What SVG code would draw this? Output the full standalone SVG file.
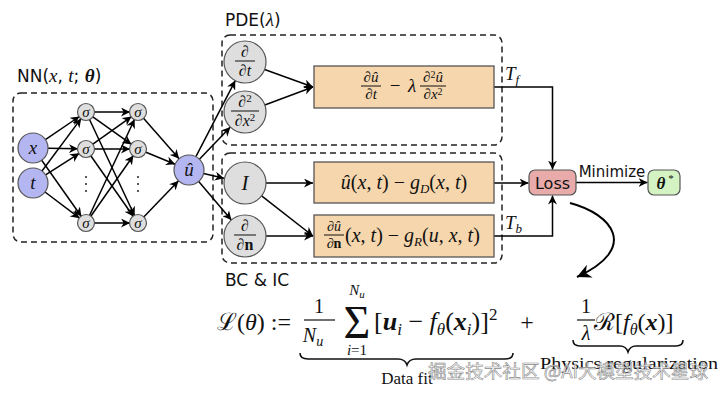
<svg xmlns="http://www.w3.org/2000/svg" width="720" height="393" viewBox="0 0 720 393">
<defs>
<marker id="ah" viewBox="0 0 10 10" refX="10" refY="5" markerWidth="9" markerHeight="9" markerUnits="userSpaceOnUse" orient="auto">
<path d="M0,0 L10,5 L0,10 L3,5 z" fill="#000"/>
</marker>
<marker id="ahb" viewBox="0 0 10 10" refX="10" refY="5" markerWidth="14" markerHeight="14" markerUnits="userSpaceOnUse" orient="auto">
<path d="M0,0 L10,5 L0,10 L3,5 z" fill="#000"/>
</marker>
</defs>
<style>
.sans{font-family:"DejaVu Sans","Liberation Sans",sans-serif;fill:#111}
.m{font-family:"Liberation Serif","DejaVu Serif",serif;fill:#111}
.i{font-style:italic}
.b{font-weight:bold}
.dash{fill:none;stroke:#222;stroke-width:1.5;stroke-dasharray:6 4}
.inp{fill:#b4b6f2;stroke:#555;stroke-width:1.2}
.sig{fill:#dedede;stroke:#555;stroke-width:1.2}
.box{fill:#f6d6ad;stroke:#555;stroke-width:1.3}
.e{stroke:#000;stroke-width:1.5;fill:none;marker-end:url(#ah)}
.ln{stroke:#111;stroke-width:1}
</style>
<rect width="720" height="393" fill="#fff"/>

<!-- containers -->
<g id="nn-container">
<rect class="dash" x="13" y="93" width="200" height="149" rx="8"/>
<text class="sans" x="17" y="82" font-size="17">NN(<tspan class="m i" font-size="19">x</tspan>, <tspan class="m i" font-size="19">t</tspan>; <tspan class="m i b" font-size="19">θ</tspan>)</text>
</g>
<g id="pde-container">
<rect class="dash" x="222" y="35" width="280" height="110" rx="8"/>
<text class="sans" x="225" y="26" font-size="17">PDE(<tspan class="m i" font-size="19">λ</tspan>)</text>
</g>
<g id="bc-container">
<rect class="dash" x="222" y="153" width="280" height="110" rx="8"/>
<text class="sans" x="225" y="286" font-size="17">BC &amp; IC</text>
</g>

<!-- connectors -->
<g id="connectors">
<line class="e" x1="45.4" y1="139.6" x2="79.4" y2="116.5"/>
<line class="e" x1="48" y1="148.3" x2="78" y2="148.8"/>
<line class="e" x1="41.7" y1="160.3" x2="81.4" y2="216.5"/>
<line class="e" x1="42" y1="171" x2="81.2" y2="118.4"/>
<line class="e" x1="45.6" y1="174.9" x2="79.3" y2="153.3"/>
<line class="e" x1="45" y1="192" x2="79.6" y2="218.2"/>
<line class="e" x1="94" y1="112" x2="130" y2="112"/>
<line class="e" x1="92.5" y1="116.6" x2="131.5" y2="144.4"/>
<line class="e" x1="89.4" y1="119.2" x2="134.6" y2="215.8"/>
<line class="e" x1="92.5" y1="144.4" x2="131.5" y2="116.6"/>
<line class="e" x1="94" y1="149" x2="130" y2="149"/>
<line class="e" x1="90.6" y1="155.5" x2="133.4" y2="216.5"/>
<line class="e" x1="89.4" y1="215.8" x2="134.6" y2="119.2"/>
<line class="e" x1="90.6" y1="216.5" x2="133.4" y2="155.5"/>
<line class="e" x1="94" y1="223" x2="130" y2="223"/>
<line class="e" x1="143.3" y1="118" x2="179.1" y2="158.7"/>
<line class="e" x1="145.4" y1="152" x2="175.1" y2="164.3"/>
<line class="e" x1="143.5" y1="217.2" x2="178.6" y2="180.8"/>
<line class="e" x1="195.9" y1="156.7" x2="235.3" y2="80.6"/>
<line class="e" x1="199.4" y1="159.2" x2="230.4" y2="127.1"/>
<line class="e" x1="203.6" y1="173.4" x2="224" y2="178.2"/>
<line class="e" x1="198.7" y1="181.4" x2="231.4" y2="220"/>
<line class="e" x1="264.6" y1="69.5" x2="313" y2="87"/>
<line class="e" x1="264.8" y1="105" x2="313" y2="87"/>
<line class="e" x1="266" y1="183" x2="313" y2="183"/>
<line class="e" x1="261.6" y1="195.9" x2="313" y2="236"/>
<line class="e" x1="266" y1="236" x2="313" y2="236"/>
<path class="e" d="M494,87 H552.5 V169.5"/>
<line class="e" x1="494" y1="183" x2="528.5" y2="183"/>
<path class="e" d="M494,236 H552.5 V195.5"/>
<line class="e" x1="576" y1="182.5" x2="647.5" y2="182.5"/>
<path d="M570,203 C612,214 640,248 577,277" fill="none" stroke="#000" stroke-width="2" marker-end="url(#ahb)"/>
<text class="m i" x="505" y="80" font-size="19">T<tspan font-size="13" dy="4">f</tspan></text>
<text class="m i" x="505" y="229" font-size="19">T<tspan font-size="13" dy="4">b</tspan></text>
<text class="sans" x="612" y="177" font-size="15" text-anchor="middle">Minimize</text>
</g>

<!-- NN nodes -->
<g id="node-x"><circle class="inp" cx="33" cy="148" r="15"/><text class="m i" x="33" y="154" font-size="19" text-anchor="middle">x</text></g>
<g id="node-t"><circle class="inp" cx="33" cy="183" r="15"/><text class="m i" x="33" y="189" font-size="19" text-anchor="middle">t</text></g>
<g id="node-s11"><circle class="sig" cx="86" cy="112" r="8.5"/><text class="m i" x="86" y="117" font-size="15" text-anchor="middle">σ</text></g>
<g id="node-s12"><circle class="sig" cx="86" cy="149" r="8.5"/><text class="m i" x="86" y="154" font-size="15" text-anchor="middle">σ</text></g>
<g id="node-s13"><circle class="sig" cx="86" cy="223" r="8.5"/><text class="m i" x="86" y="228" font-size="15" text-anchor="middle">σ</text></g>
<g id="node-s21"><circle class="sig" cx="138" cy="112" r="8.5"/><text class="m i" x="138" y="117" font-size="15" text-anchor="middle">σ</text></g>
<g id="node-s22"><circle class="sig" cx="138" cy="149" r="8.5"/><text class="m i" x="138" y="154" font-size="15" text-anchor="middle">σ</text></g>
<g id="node-s23"><circle class="sig" cx="138" cy="223" r="8.5"/><text class="m i" x="138" y="228" font-size="15" text-anchor="middle">σ</text></g>
<g id="dots1"><circle cx="86" cy="177" r="1" fill="#222"/><circle cx="86" cy="184" r="1" fill="#222"/><circle cx="86" cy="191" r="1" fill="#222"/></g>
<g id="dots2"><circle cx="138" cy="177" r="1" fill="#222"/><circle cx="138" cy="184" r="1" fill="#222"/><circle cx="138" cy="191" r="1" fill="#222"/></g>
<g id="node-u"><circle class="inp" cx="189" cy="170" r="15"/><text class="m i" x="189" y="176" font-size="19" text-anchor="middle">û</text></g>

<!-- operator nodes -->
<g id="node-dt"><circle class="sig" cx="245" cy="62" r="21"/>
<text class="m" x="245" y="57" font-size="16" text-anchor="middle">∂</text><line class="ln" x1="235" y1="61" x2="255" y2="61"/>
<text class="m" x="245" y="76" font-size="16" text-anchor="middle">∂<tspan class="i">t</tspan></text></g>
<g id="node-dxx"><circle class="sig" cx="245" cy="112" r="21"/>
<text class="m" x="245" y="107" font-size="16" text-anchor="middle">∂<tspan font-size="11" dy="-5">2</tspan></text><line class="ln" x1="231" y1="111" x2="259" y2="111"/>
<text class="m" x="245" y="126" font-size="16" text-anchor="middle">∂<tspan class="i">x</tspan><tspan font-size="11" dy="-5">2</tspan></text></g>
<g id="node-I"><circle class="sig" cx="245" cy="183" r="21"/><text class="m i" x="245" y="190" font-size="21" text-anchor="middle">I</text></g>
<g id="node-dn"><circle class="sig" cx="245" cy="236" r="21"/>
<text class="m" x="245" y="231" font-size="16" text-anchor="middle">∂</text><line class="ln" x1="234" y1="235" x2="256" y2="235"/>
<text class="m" x="245" y="250" font-size="16" text-anchor="middle">∂<tspan font-weight="bold">n</tspan></text></g>

<!-- residual boxes -->
<g id="box-pde"><rect class="box" x="314" y="66" width="180" height="42"/>
<text class="m" x="371" y="82" font-size="15" text-anchor="middle">∂<tspan class="i">û</tspan></text><line class="ln" x1="361" y1="86" x2="381" y2="86"/>
<text class="m" x="371" y="99" font-size="15" text-anchor="middle">∂<tspan class="i">t</tspan></text>
<text class="m" x="395" y="92" font-size="19" text-anchor="middle">−</text>
<text class="m i" x="412" y="92" font-size="19" text-anchor="middle">λ</text>
<text class="m" x="433" y="82" font-size="15" text-anchor="middle">∂<tspan font-size="10" dy="-4">2</tspan><tspan class="i" dy="4">û</tspan></text><line class="ln" x1="420" y1="86" x2="446" y2="86"/>
<text class="m" x="433" y="99" font-size="15" text-anchor="middle">∂<tspan class="i">x</tspan><tspan font-size="10" dy="-4">2</tspan></text>
</g>
<g id="box-bc1"><rect class="box" x="314" y="162" width="180" height="41"/>
<text class="m" x="404" y="189" font-size="20" text-anchor="middle"><tspan class="i">û</tspan>(<tspan class="i">x</tspan>, <tspan class="i">t</tspan>) − <tspan class="i">g</tspan><tspan class="i" font-size="13" dy="4">D</tspan><tspan dy="-4">(</tspan><tspan class="i">x</tspan>, <tspan class="i">t</tspan>)</text></g>
<g id="box-bc2"><rect class="box" x="314" y="215" width="180" height="42"/>
<text class="m" x="334" y="231" font-size="14" text-anchor="middle">∂<tspan class="i">û</tspan></text><line class="ln" x1="324" y1="235" x2="344" y2="235"/>
<text class="m" x="334" y="248" font-size="14" text-anchor="middle">∂<tspan font-weight="bold">n</tspan></text>
<text class="m" x="345" y="242" font-size="20">(<tspan class="i">x</tspan>, <tspan class="i">t</tspan>) − <tspan class="i">g</tspan><tspan class="i" font-size="13" dy="4">R</tspan><tspan dy="-4">(</tspan><tspan class="i">u</tspan>, <tspan class="i">x</tspan>, <tspan class="i">t</tspan>)</text></g>

<g id="node-loss"><rect x="529" y="170" width="47" height="25" rx="6" fill="#e9aaaa" stroke="#555" stroke-width="1.2"/><text class="sans" x="552.5" y="188.5" font-size="16" text-anchor="middle">Loss</text></g>
<g id="node-theta"><rect x="648" y="170" width="32" height="25" rx="6" fill="#d3f4c2" stroke="#555" stroke-width="1.2"/><text class="m i b" x="661" y="189" font-size="17" text-anchor="middle">θ</text><text class="m" x="671" y="182" font-size="11" text-anchor="middle">*</text></g>

<!-- formula -->
<g id="formula">
<text class="m" x="217" y="330" font-size="24">ℒ(<tspan class="i">θ</tspan>) :=</text>
<text class="m" x="319" y="313" font-size="20" text-anchor="middle">1</text>
<line x1="304" y1="320" x2="335" y2="320" stroke="#111" stroke-width="1.2"/>
<text class="m i" x="313" y="342" font-size="20" text-anchor="middle">N<tspan font-size="14" dy="4">u</tspan></text>
<text class="m" x="357" y="338" font-size="46" text-anchor="middle">Σ</text>
<text class="m i" x="357" y="295" font-size="15" text-anchor="middle">N<tspan font-size="11" dy="3">u</tspan></text>
<text class="m" x="357" y="355" font-size="15" text-anchor="middle"><tspan class="i">i</tspan>=1</text>
<text class="m" x="374" y="330" font-size="26">[<tspan class="i b">u</tspan><tspan class="i" font-size="17" dy="5">i</tspan><tspan dy="-5"> − </tspan><tspan class="i">f</tspan><tspan class="i" font-size="17" dy="5">θ</tspan><tspan dy="-5">(</tspan><tspan class="i b">x</tspan><tspan class="i" font-size="17" dy="5">i</tspan><tspan dy="-5">)]</tspan><tspan font-size="17" dy="-10">2</tspan></text>
<text class="m" x="527" y="330" font-size="24" text-anchor="middle">+</text>
<text class="m" x="586" y="313" font-size="20" text-anchor="middle">1</text>
<line x1="577" y1="320" x2="595" y2="320" stroke="#111" stroke-width="1.2"/>
<text class="m i" x="586" y="340" font-size="20" text-anchor="middle">λ</text>
<text class="m" x="594" y="330" font-size="24">ℛ[<tspan class="i">f</tspan><tspan class="i" font-size="16" dy="5">θ</tspan><tspan dy="-5">(</tspan><tspan class="i b">x</tspan>)]</text>
<path d="M300,353 Q300,359 308,359 H398 Q405,359 407,365 Q409,359 416,359 H505 Q513,359 513,353" fill="none" stroke="#111" stroke-width="1.6"/>
<path d="M573,340 Q573,346 580,346 H620 Q626,346 628,352 Q630,346 636,346 H676 Q683,346 683,340" fill="none" stroke="#111" stroke-width="1.6"/>
<text class="m" x="407" y="384" font-size="17" text-anchor="middle">Data fit</text>
<text class="m" x="540" y="369" font-size="17" textLength="178" lengthAdjust="spacingAndGlyphs">Physics regularization</text>
</g>
<text x="428" y="378" font-size="18" textLength="280" lengthAdjust="spacingAndGlyphs" font-family="'Noto Sans CJK SC',sans-serif" fill="#ffffff" fill-opacity="0.75" stroke="#8a8a8a" stroke-width="0.6">掘金技术社区 @AI大模型技术星球</text>
</svg>
